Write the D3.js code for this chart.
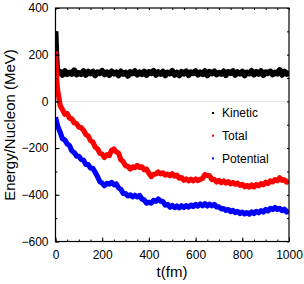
<!DOCTYPE html>
<html>
<head>
<meta charset="utf-8">
<script src="https://d3js.org/d3.v7.min.js"></script>
<style>
  body { margin: 0; background: #fff; }
  text { font-family: "Liberation Sans", Arial, sans-serif; }
</style>
</head>
<body>
<script>
'use strict';

// time steps (fm) - a few extra points at the start for the fast transient
const times = [0, 2, 4, 6, 8,
  10, 20, 30, 40, 50, 60, 70, 80, 90, 100, 110, 120, 130, 140, 150, 160, 170, 180, 190, 200,
  210, 220, 230, 240, 250, 260, 270, 280, 290, 300, 310, 320, 330, 340, 350, 360, 370, 380, 390, 400,
  410, 420, 430, 440, 450, 460, 470, 480, 490, 500, 510, 520, 530, 540, 550, 560, 570, 580, 590, 600,
  610, 620, 630, 640, 650, 660, 670, 680, 690, 700, 710, 720, 730, 740, 750, 760, 770, 780, 790, 800,
  810, 820, 830, 840, 850, 860, 870, 880, 890, 900, 910, 920, 930, 940, 950, 960, 970, 980, 990, 1000];

// energy per nucleon (MeV)
const kinetic = [300, 230, 180, 150, 135,
  130, 126, 114, 130, 117, 124, 118, 133, 116, 122, 117, 129, 114, 127, 120, 127, 112, 125, 121, 130,
  116, 124, 113, 128, 119, 124, 112, 128, 118, 123, 110, 125, 120, 129, 115, 124, 117, 127, 113, 126,
  121, 130, 114, 125, 118, 127, 112, 124, 120, 130, 114, 123, 112, 126, 119, 128, 113, 125, 121, 129,
  115, 124, 117, 129, 112, 126, 120, 128, 116, 123, 118, 128, 113, 126, 121, 129, 114, 125, 119, 127,
  112, 124, 120, 130, 115, 126, 118, 129, 113, 125, 121, 128, 116, 124, 119, 134, 114, 127, 118, 128];

const total = [215, 170, 120, 85, 60,
  45, -18, -35, -55, -52, -72, -74, -92, -95, -110, -112, -124, -142, -148, -168, -174, -196, -203, -222, -226,
  -240, -228, -232, -210, -204, -216, -222, -250, -258, -276, -278, -290, -280, -284, -274, -283, -280, -293, -290, -308,
  -322, -312, -311, -302, -310, -306, -316, -311, -318, -310, -320, -316, -329, -326, -338, -332, -340, -333, -340, -332,
  -339, -333, -330, -314, -317, -319, -335, -334, -345, -338, -348, -341, -350, -344, -353, -347, -355, -350, -360, -355,
  -366, -360, -367, -358, -366, -356, -361, -352, -357, -346, -352, -340, -345, -335, -340, -327, -338, -336, -346, -340];

const potential = [-68, -75, -85, -92, -100,
  -108, -132, -160, -165, -182, -189, -212, -219, -234, -235, -249, -252, -270, -271, -286, -287, -304, -322, -344, -350,
  -361, -351, -354, -347, -357, -353, -370, -377, -394, -395, -405, -400, -409, -402, -409, -403, -418, -422, -436, -432,
  -436, -424, -428, -418, -427, -429, -444, -441, -453, -446, -455, -448, -456, -447, -454, -446, -453, -444, -450, -441,
  -448, -439, -447, -438, -448, -440, -447, -441, -452, -452, -460, -459, -467, -463, -472, -467, -476, -471, -480, -474,
  -482, -476, -483, -473, -480, -471, -477, -468, -474, -463, -469, -458, -463, -454, -463, -458, -468, -462, -474, -466];

// series names and colours, legend order
const seriesNames = ['Kinetic', 'Total', 'Potential'];
const seriesColors = ['#000000', '#ff0000', '#0000ff'];
const seriesWidths = [6, 5.2, 5.2];

// axis ticks
const xTicks = [0, 200, 400, 600, 800, 1000];
const yTicks = [-600, -400, -200, 0, 200, 400];

(function() {

  let svgContainer = ""; // keep SVG reference

  window.onload = function() {
    svgContainer = d3.select('body')
      .append('svg')
      .attr('width', 304)
      .attr('height', 284);

    // plot box edges
    let left = 55.5, right = 289, top = 8, bottom = 241.5;

    let xScale = d3.scaleLinear()
      .domain([0, 1000])
      .range([left, right]);

    let yScale = d3.scaleLinear()
      .domain([-600, 400])
      .range([bottom, top]);

    // light zero line
    svgContainer.append('line')
      .attr('x1', left)
      .attr('x2', right)
      .attr('y1', yScale(0))
      .attr('y2', yScale(0))
      .style('stroke', '#e4e4e4')
      .style('stroke-width', 1);

    // clip so thick strokes stay inside the frame
    svgContainer.append('clipPath')
      .attr('id', 'plotClip')
      .append('rect')
      .attr('x', left)
      .attr('y', top)
      .attr('width', right - left)
      .attr('height', bottom - top);

    // plot the three series as thick noisy lines
    let allSeries = [kinetic, total, potential];
    let line = d3.line()
      .x((d, i) => xScale(times[i]))
      .y((d) => yScale(d));

    allSeries.forEach((values, k) => {
      svgContainer.append('path')
        .datum(values)
        .attr('d', line)
        .attr('clip-path', 'url(#plotClip)')
        .attr('fill', 'none')
        .style('stroke', seriesColors[k])
        .style('stroke-width', seriesWidths[k])
        .style('stroke-linejoin', 'round');
    });

    drawAxes(xScale, yScale, left, right, top, bottom);
    makeLegend();
    makeLabels();
  }

  // frame with inward ticks on all four sides
  function drawAxes(xScale, yScale, left, right, top, bottom) {
    let xMinor = d3.range(0, 1001, 50);
    let yMinor = d3.range(-600, 401, 100);

    // bottom + top
    svgContainer.append('g')
      .attr('transform', 'translate(0,' + bottom + ')')
      .call(d3.axisBottom(xScale).tickValues(xMinor).tickSize(-2).tickFormat(''));
    svgContainer.append('g')
      .attr('transform', 'translate(0,' + top + ')')
      .call(d3.axisTop(xScale).tickValues(xMinor).tickSize(-2).tickFormat(''));
    svgContainer.append('g')
      .attr('transform', 'translate(0,' + bottom + ')')
      .call(d3.axisBottom(xScale).tickValues(xTicks).tickSize(-4).tickPadding(9)
        .tickFormat(d3.format('d')));

    // left + right
    svgContainer.append('g')
      .attr('transform', 'translate(' + left + ',0)')
      .call(d3.axisLeft(yScale).tickValues(yMinor).tickSize(-2).tickFormat(''));
    svgContainer.append('g')
      .attr('transform', 'translate(' + right + ',0)')
      .call(d3.axisRight(yScale).tickValues(yMinor).tickSize(-2).tickFormat(''));
    svgContainer.append('g')
      .attr('transform', 'translate(' + left + ',0)')
      .call(d3.axisLeft(yScale).tickValues(yTicks).tickSize(-4).tickPadding(7)
        .tickFormat((d) => d < 0 ? '\u2212' + Math.abs(d) : d));

    svgContainer.selectAll('.domain').remove();
    svgContainer.selectAll('.tick line').style('stroke', '#000');
    svgContainer.selectAll('.tick text')
      .style('font-family', '"Liberation Sans", Arial, sans-serif')
      .style('font-size', '12px')
      .style('fill', '#000');

    // box
    svgContainer.append('rect')
      .attr('x', left)
      .attr('y', top)
      .attr('width', right - left)
      .attr('height', bottom - top)
      .attr('fill', 'none')
      .style('stroke', '#000')
      .style('stroke-width', 1.2);
  }

  function makeLegend() {
    let legend = svgContainer.append('g');
    seriesNames.forEach((name, i) => {
      let y = 113 + i * 22.7;
      legend.append('rect')
        .attr('x', 212)
        .attr('y', y - 1)
        .attr('width', 2)
        .attr('height', 2)
        .attr('fill', seriesColors[i]);
      legend.append('text')
        .attr('x', 222)
        .attr('y', y + 4.3)
        .style('font-size', '12px')
        .text(name);
    });
  }

  // axes titles
  function makeLabels() {
    svgContainer.append('text')
      .attr('x', 172)
      .attr('y', 277)
      .attr('text-anchor', 'middle')
      .style('font-size', '15px')
      .text('t(fm)');

    svgContainer.append('text')
      .attr('transform', 'translate(15, 125)rotate(-90)')
      .attr('text-anchor', 'middle')
      .style('font-size', '15px')
      .text('Energy/Nucleon (MeV)');
  }

})();
</script>
</body>
</html>
